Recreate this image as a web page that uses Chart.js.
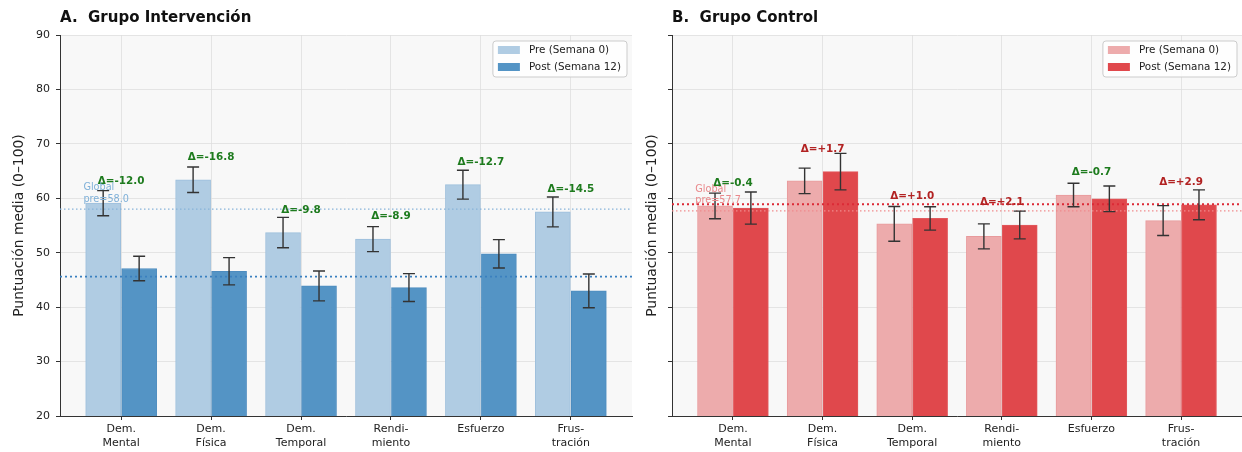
<!DOCTYPE html>
<html><head><meta charset="utf-8">
<script src="https://cdn.jsdelivr.net/npm/chart.js@4.4.0/dist/chart.umd.min.js"></script>
<style>
html,body{margin:0;padding:0;background:#fff;}
#wrap{position:relative;width:1242px;height:452px;overflow:hidden;}
.pane{position:absolute;top:0;height:452px;}
#pA{left:0;width:640px;}
#pB{left:640px;width:602px;}
canvas{display:block;}
</style></head><body>
<div id="wrap">
  <div class="pane" id="pA"><canvas id="cA" width="640" height="452"></canvas></div>
  <div class="pane" id="pB"><canvas id="cB" width="602" height="452"></canvas></div>
</div>
<script>
// ---------- data ----------
const categories = [['Dem.','Mental'],['Dem.','Física'],['Dem.','Temporal'],['Rendi-','miento'],['Esfuerzo'],['Frus-','tración']];
const yTicks = [20,30,40,50,60,70,80,90];
const seriesLabels = ['Pre (Semana 0)','Post (Semana 12)'];
const yAxisLabel = 'Puntuación media (0–100)';

const intPre     = [59.1, 63.4, 53.7, 52.5, 62.5, 57.5];
const intPost    = [47.1, 46.6, 43.9, 43.6, 49.8, 43.0];
const intPreErr  = [2.3, 2.35, 2.8, 2.3, 2.65, 2.75];
const intPostErr = [2.25, 2.5, 2.75, 2.55, 2.6, 3.1];
const intGlobalPre  = 58.0;
const intGlobalPost = 45.6;

const ctlPre     = [58.6, 63.2, 55.3, 53.0, 60.6, 55.9];
const ctlPost    = [58.2, 64.9, 56.3, 55.1, 59.9, 58.8];
const ctlPreErr  = [2.35, 2.35, 3.2, 2.3, 2.15, 2.75];
const ctlPostErr = [2.95, 3.35, 2.15, 2.55, 2.35, 2.75];
const ctlGlobalPre  = 57.7;
const ctlGlobalPost = 58.9;

// ---------- drawing ----------
const FONT = "'DejaVu Sans', sans-serif";
Chart.defaults.font.family = FONT;

function makePanel(canvasId, o) {
  const decor = {
    id: 'decor_' + canvasId,
    beforeDraw(chart) {
      const {ctx, chartArea: a} = chart;
      ctx.save();
      ctx.fillStyle = '#ffffff';
      ctx.fillRect(0, 0, chart.width, chart.height);
      ctx.fillStyle = '#f8f8f8';
      ctx.fillRect(a.left, a.top, a.right - a.left, a.bottom - a.top);
      ctx.restore();
    },
    afterDraw(chart) {
      const {ctx, chartArea: a, scales: {x, y}} = chart;
      ctx.save();
      // global reference lines
      const gl = (v, color, lw, dash) => {
        const py = y.getPixelForValue(v);
        ctx.beginPath(); ctx.setLineDash(dash);
        ctx.strokeStyle = color; ctx.lineWidth = lw;
        ctx.moveTo(a.left, py); ctx.lineTo(a.right, py); ctx.stroke();
      };
      gl(o.globalPre, o.preLine, 1.2, [1.5, 2.5]);
      gl(o.globalPost, o.postLine, 1.8, [2, 3]);
      ctx.setLineDash([]);
      // error bars
      [[0, o.pre, o.preErr], [1, o.post, o.postErr]].forEach(([d, vals, errs]) => {
        const meta = chart.getDatasetMeta(d);
        meta.data.forEach((bar, i) => {
          const cx = bar.x;
          const t = y.getPixelForValue(vals[i] + errs[i]);
          const b = y.getPixelForValue(vals[i] - errs[i]);
          ctx.strokeStyle = '#333'; ctx.lineWidth = 1.4;
          ctx.beginPath();
          ctx.moveTo(cx, t); ctx.lineTo(cx, b);
          ctx.moveTo(cx - 6, t); ctx.lineTo(cx + 6, t);
          ctx.moveTo(cx - 6, b); ctx.lineTo(cx + 6, b);
          ctx.stroke();
        });
      });
      // delta labels
      ctx.font = 'bold 10.4px ' + FONT;
      ctx.textAlign = 'center'; ctx.textBaseline = 'middle';
      o.pre.forEach((p, i) => {
        const q = o.post[i];
        const d = q - p;
        const txt = 'Δ=' + (d > 0 ? '+' : '') + d.toFixed(1);
        ctx.fillStyle = d < 0 ? '#1e7b1e' : '#b22222';
        ctx.fillText(txt, x.getPixelForValue(i), y.getPixelForValue(Math.max(p, q) + 4.1));
      });
      // global text
      ctx.font = '9.7px ' + FONT;
      ctx.textAlign = 'left';
      ctx.fillStyle = o.globalText;
      const gx = x.getPixelForValue(-0.42);
      const gp = y.getPixelForValue(o.globalPre);
      ctx.fillText('Global', gx, gp - 21.5);
      ctx.fillText('pre=' + o.globalPre.toFixed(1), gx, gp - 10);
      // legend
      ctx.font = '10.4px ' + FONT;
      const tw = Math.max(...seriesLabels.map(s => ctx.measureText(s).width));
      const bw = 5 + 22 + 9 + tw + 6;
      const bx = a.right - 5 - bw, by = a.top + 6, bh = 36;
      ctx.beginPath();
      ctx.roundRect(bx, by, bw, bh, 3);
      ctx.fillStyle = 'rgba(255,255,255,0.85)'; ctx.fill();
      ctx.strokeStyle = '#cccccc'; ctx.lineWidth = 1; ctx.stroke();
      const cols = [o.preColor, o.postColor];
      seriesLabels.forEach((s, k) => {
        const cy = by + 9 + k * 17;
        ctx.fillStyle = cols[k];
        ctx.fillRect(bx + 5, cy - 4, 22, 8);
        ctx.fillStyle = '#222';
        ctx.textBaseline = 'middle';
        ctx.fillText(s, bx + 5 + 22 + 9, cy + 0.5);
      });
      // title
      ctx.font = 'bold 15px ' + FONT;
      ctx.fillStyle = '#111';
      ctx.textAlign = 'left'; ctx.textBaseline = 'middle';
      ctx.fillText(o.title, a.left, 18);
      ctx.restore();
    }
  };

  const gridCfg = {color: 'rgba(222,222,222,0.75)', lineWidth: 1, tickLength: 4, tickColor: '#333', drawTicks: true};

  return new Chart(document.getElementById(canvasId), {
    type: 'bar',
    data: {
      datasets: [
        {label: seriesLabels[0], data: o.pre.map((v, i) => ({x: i - 0.2, y: v})),
         backgroundColor: o.preColor, borderColor: o.preBorder, borderWidth: 1, barThickness: 35, grouped: false},
        {label: seriesLabels[1], data: o.post.map((v, i) => ({x: i + 0.2, y: v})),
         backgroundColor: o.postColor, borderColor: o.postBorder, borderWidth: 1, barThickness: 35, grouped: false}
      ]
    },
    options: {
      responsive: false, animation: false, devicePixelRatio: 1,
      layout: {padding: {top: 35, right: o.padRight, bottom: 0, left: 0}},
      plugins: {legend: {display: false}, tooltip: {enabled: false}, title: {display: false}},
      scales: {
        x: {
          type: 'linear', min: -0.68, max: 5.68, z: 1, offset: false,
          afterBuildTicks: s => { s.ticks = categories.map((c, i) => ({value: i})); },
          afterFit: s => { s.height = 36; },
          ticks: {callback: v => categories[v], font: {size: 11, lineHeight: 1.2}, color: '#222', padding: 3, autoSkip: false, maxRotation: 0},
          grid: {...gridCfg, offset: false},
          border: {color: '#333', width: 1}
        },
        y: {
          min: 20, max: 90, z: 1,
          afterBuildTicks: s => { s.ticks = yTicks.map(v => ({value: v})); },
          afterFit: s => { s.width = o.yWidth; },
          ticks: {callback: v => o.showYLabels ? String(v) : '', font: {size: 11}, color: '#222', padding: 6},
          grid: gridCfg,
          border: {color: '#333', width: 1},
          title: {display: true, text: yAxisLabel, font: {size: 13.9}, color: '#222', padding: {top: o.yTitlePad, bottom: 0}}
        }
      }
    },
    plugins: [decor]
  });
}

makePanel('cA', {
  title: 'A.  Grupo Intervención',
  pre: intPre, post: intPost, preErr: intPreErr, postErr: intPostErr,
  globalPre: intGlobalPre, globalPost: intGlobalPost,
  preColor: '#b0cce3', postColor: '#5494c5', preBorder: '#9dbfdc', postBorder: '#4d8cbf',
  preLine: '#86b3d9', postLine: '#3a80c0', globalText: '#7fb0d8',
  padRight: 8, yWidth: 60, yTitlePad: 11, showYLabels: true
});
makePanel('cB', {
  title: 'B.  Grupo Control',
  pre: ctlPre, post: ctlPost, preErr: ctlPreErr, postErr: ctlPostErr,
  globalPre: ctlGlobalPre, globalPost: ctlGlobalPost,
  preColor: '#edabac', postColor: '#e0484c', preBorder: '#e89a9c', postBorder: '#e25a5e',
  preLine: '#ef8a8c', postLine: '#dc2a36', globalText: '#e9888b',
  padRight: 0, yWidth: 32, yTitlePad: 3.6, showYLabels: false
});
</script>
</body></html>
